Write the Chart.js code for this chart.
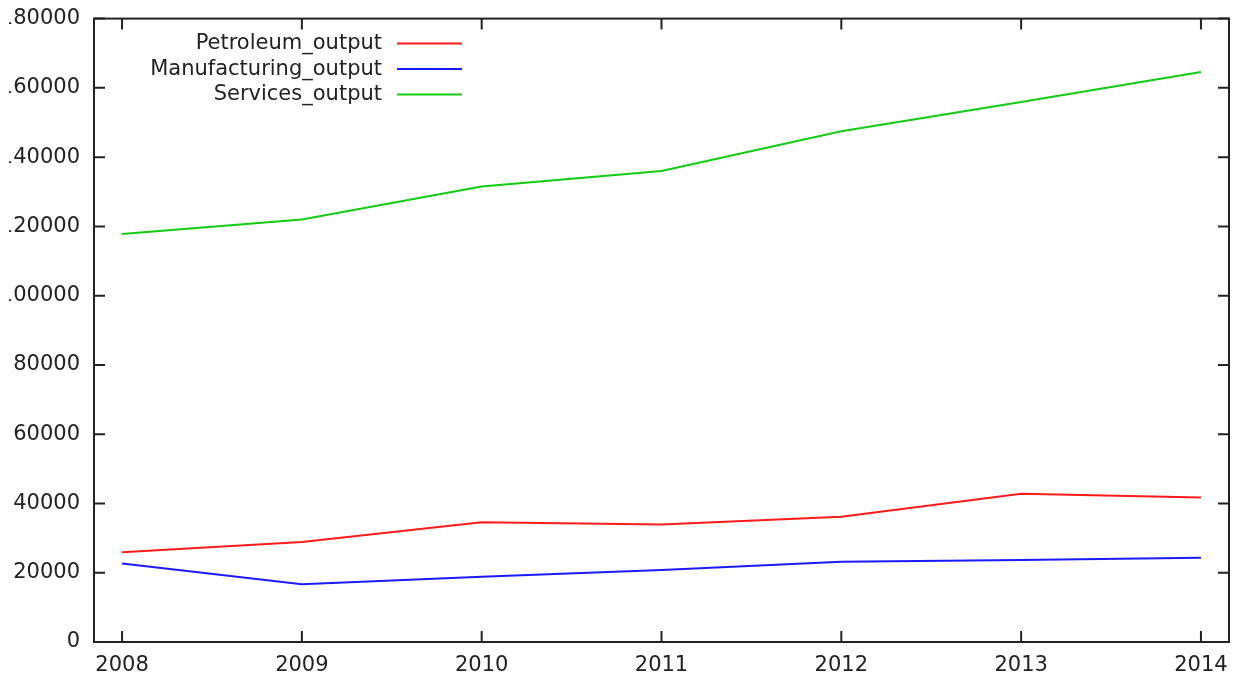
<!DOCTYPE html>
<html>
<head>
<meta charset="utf-8">
<script src="https://cdn.jsdelivr.net/npm/chart.js@4.4.1/dist/chart.umd.min.js"></script>
<style>
  html, body { margin: 0; padding: 0; background: #fff; }
  #wrap { position: absolute; left: 9px; top: 0; width: 1242px; height: 682px; overflow: hidden; }
  #outputChart { position: absolute; left: -29px; top: -8px; }
</style>
</head>
<body>
<div id="wrap">
  <canvas id="outputChart" width="1271" height="690" style="width:1271px;height:690px"></canvas>
</div>
<script>
const years = [2008, 2009, 2010, 2011, 2012, 2013, 2014];
const petroleumOutput = [25950, 28850, 34600, 33950, 36150, 42800, 41700];
const manufacturingOutput = [22700, 16650, 18850, 20770, 23150, 23650, 24300];
const servicesOutput = [117800, 122000, 131500, 136000, 147500, 155900, 164600];
const yMax = 180000;
const yStep = 20000;

const font = { family: "DejaVu Sans", size: 21 };
const textColor = "#222";

// gnuplot style frame: border box, inward ticks on all sides, key inside top-left
const framePlugin = {
  id: "frame",
  afterDraw(chart) {
    const { ctx, chartArea: a, scales } = chart;
    const tick = 11;
    ctx.save();
    ctx.strokeStyle = "#222";
    ctx.lineWidth = 2;
    ctx.strokeRect(a.left, a.top, a.right - a.left, a.bottom - a.top);
    ctx.beginPath();
    scales.y.ticks.forEach((t) => {
      const py = scales.y.getPixelForValue(t.value);
      ctx.moveTo(a.left, py); ctx.lineTo(a.left + tick, py);
      ctx.moveTo(a.right, py); ctx.lineTo(a.right - tick, py);
    });
    scales.x.ticks.forEach((t) => {
      const px = scales.x.getPixelForValue(t.value);
      ctx.moveTo(px, a.bottom); ctx.lineTo(px, a.bottom - tick);
      ctx.moveTo(px, a.top); ctx.lineTo(px, a.top + tick);
    });
    ctx.stroke();

    // key
    ctx.font = font.size + "px " + font.family;
    ctx.textAlign = "right";
    ctx.textBaseline = "middle";
    chart.data.datasets.forEach((ds, i) => {
      const ly = a.top + 25 + i * 25.5;
      ctx.fillStyle = textColor;
      ctx.fillText(ds.label, a.left + 288, ly);
      ctx.strokeStyle = ds.borderColor;
      ctx.lineWidth = 2;
      ctx.beginPath();
      ctx.moveTo(a.left + 303, ly);
      ctx.lineTo(a.left + 368, ly);
      ctx.stroke();
    });
    ctx.restore();
  },
};

const toPoints = (vals) => vals.map((v, i) => ({ x: years[i], y: v }));

var ctx = document.getElementById("outputChart").getContext("2d");
var outputChart = new Chart(ctx, {
  type: "line",
  data: {
    datasets: [
      { label: "Petroleum_output", data: toPoints(petroleumOutput), borderColor: "#ff1a1a" },
      { label: "Manufacturing_output", data: toPoints(manufacturingOutput), borderColor: "#1a1aff" },
      { label: "Services_output", data: toPoints(servicesOutput), borderColor: "#11cc11" },
    ],
  },
  options: {
    responsive: false,
    animation: false,
    layout: { padding: { top: 10, right: 22, left: 0, bottom: 0 } },
    elements: {
      line: { borderWidth: 2, tension: 0, fill: false },
      point: { radius: 0 },
    },
    plugins: {
      legend: { display: false },
      tooltip: { enabled: false },
    },
    scales: {
      x: {
        type: "linear",
        min: years[0] - 0.156,
        max: years[years.length - 1] + 0.156,
        afterBuildTicks: (scale) => {
          scale.ticks = years.map((v) => ({ value: v }));
        },
        afterFit: (scale) => { scale.height = 40; },
        grid: { display: false, drawTicks: false },
        border: { display: false },
        ticks: {
          font: font,
          color: textColor,
          padding: 11,
          maxRotation: 0,
          autoSkip: false,
          callback: (v) => String(v),
        },
      },
      y: {
        min: 0,
        max: yMax,
        afterFit: (scale) => { scale.width = 114; },
        grid: { display: false, drawTicks: false },
        border: { display: false },
        ticks: {
          stepSize: yStep,
          font: font,
          color: textColor,
          padding: 14,
          autoSkip: false,
          callback: (v) => String(v),
        },
      },
    },
  },
  plugins: [framePlugin],
});
</script>
</body>
</html>
